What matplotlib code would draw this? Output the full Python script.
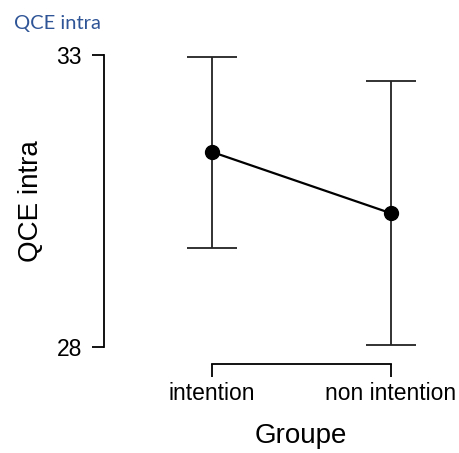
import matplotlib
matplotlib.use('Agg')
import matplotlib.pyplot as plt

# valeurs
groupes = ['intention', 'non intention']
moyennes = [31.34, 30.29]
bas = [29.70, 28.03]
haut = [32.97, 32.55]

plt.rcParams['font.family'] = ['Liberation Sans', 'DejaVu Sans']

W, H = 459, 453
fig = plt.figure(figsize=(W / 100, H / 100), dpi=100)
# axes placés en pixels : spine gauche x=104, y de 55 (33) à 347 (28)
ax = fig.add_axes([104 / W, 1 - 347 / H, (W - 104) / W, (347 - 55) / H])

x = list(range(len(groupes)))
err = [[m - b for m, b in zip(moyennes, bas)], [h - m for m, h in zip(moyennes, haut)]]
ax.errorbar(x, moyennes, yerr=err, color='black', ecolor='#222222', elinewidth=1.3,
            capsize=18, capthick=1.3, lw=1.6, marker='o', markersize=10, clip_on=False)

ax.set_xlim(-0.603, (W - 212) / 179)
ax.set_ylim(28, 33)
ax.set_yticks([28, 33])
ax.set_xticks(x)
ax.set_xticklabels(groupes)

for s in ['top', 'right']:
    ax.spines[s].set_visible(False)
ax.spines['left'].set_bounds(28, 33)
ax.spines['bottom'].set_position(('outward', 12))
ax.spines['bottom'].set_bounds(0, 1)
for s in ['left', 'bottom']:
    ax.spines[s].set_linewidth(1.3)
ax.tick_params(axis='both', length=9, width=1.3, labelsize=16.5, colors='black')
ax.tick_params(axis='x', pad=4)
ax.tick_params(axis='y', pad=7)

ax.set_xlabel('Groupe', fontsize=20, labelpad=14)
ax.xaxis.set_label_coords((301 - 104) / (W - 104), -0.26)
ax.set_ylabel('QCE intra', fontsize=20, labelpad=9)

fig.text(14 / W, 1 - 23 / H, 'QCE intra', color='#2F5597', fontsize=14.5,
         family=['Lato', 'DejaVu Sans'], va='center', ha='left')

fig.savefig('out.png', dpi=100)
